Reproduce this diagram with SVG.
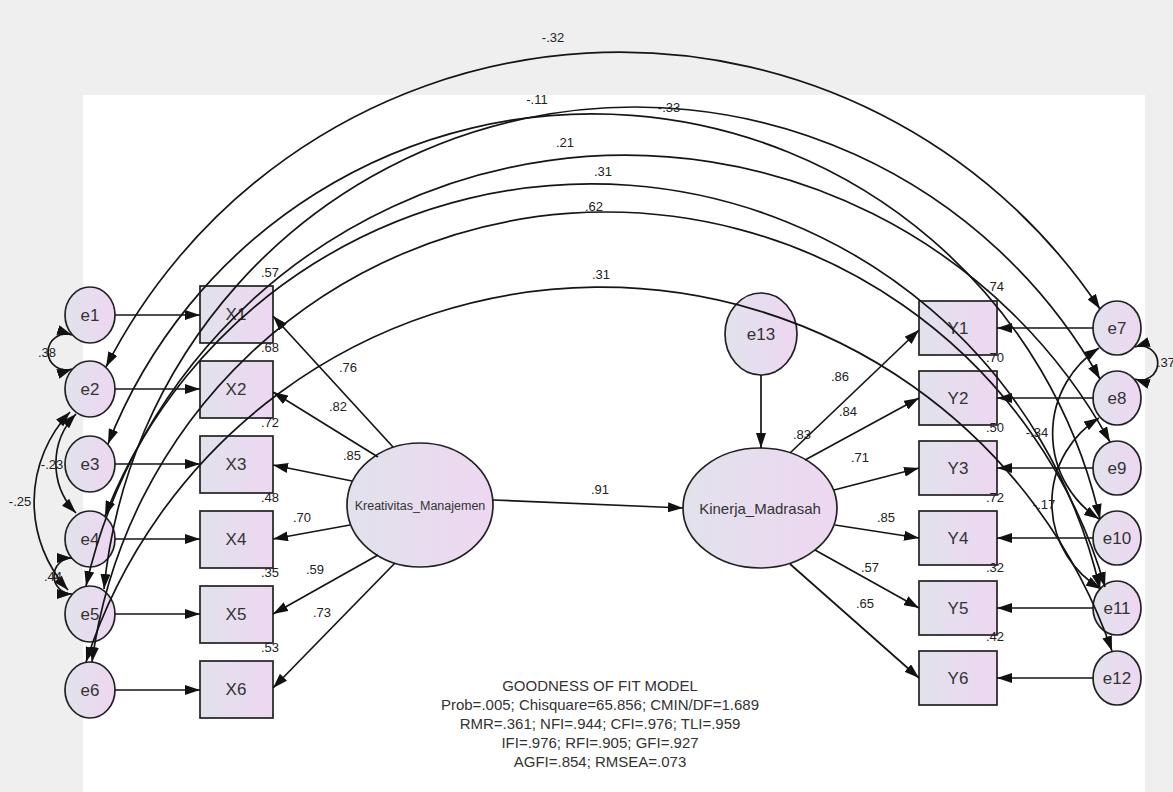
<svg xmlns="http://www.w3.org/2000/svg" width="1173" height="792" viewBox="0 0 1173 792">
<defs>
<linearGradient id="g" x1="0" y1="0" x2="1" y2="0">
<stop offset="0" stop-color="#e1e2ec"/>
<stop offset="1" stop-color="#eed7f1"/>
</linearGradient>
<marker id="a" viewBox="0 0 15 10" refX="15" refY="5" markerWidth="15" markerHeight="10" markerUnits="userSpaceOnUse" orient="auto-start-reverse">
<path d="M0,0L15,5L0,10z" fill="#111"/>
</marker>
<style>
.n{fill:url(#g);stroke:#222;stroke-width:1.7}
.t{font-family:"Liberation Sans",Arial,sans-serif;font-size:17px;fill:#333;text-anchor:middle}
.l{font-family:"Liberation Sans",Arial,sans-serif;font-size:13px;fill:#222;text-anchor:middle}
.f{font-family:"Liberation Sans",Arial,sans-serif;font-size:15px;fill:#333;text-anchor:middle}
.c path,.c line{fill:none;stroke:#151515;stroke-width:1.7}
.s{marker-end:url(#a)}
.d{marker-start:url(#a);marker-end:url(#a)}
</style>
</defs>
<rect x="0" y="0" width="1173" height="792" fill="#efefef"/>
<rect x="83" y="95" width="1062" height="697" fill="#ffffff"/>

<g id="e1"><ellipse class="n" cx="90" cy="315" rx="25" ry="28"/><text class="t" x="90" y="321">e1</text></g>
<g id="e2"><ellipse class="n" cx="90" cy="389" rx="25" ry="28"/><text class="t" x="90" y="395">e2</text></g>
<g id="e3"><ellipse class="n" cx="90" cy="464" rx="25" ry="28"/><text class="t" x="90" y="470">e3</text></g>
<g id="e4"><ellipse class="n" cx="90" cy="539" rx="25" ry="28"/><text class="t" x="90" y="545">e4</text></g>
<g id="e5"><ellipse class="n" cx="90" cy="614" rx="25" ry="28"/><text class="t" x="90" y="620">e5</text></g>
<g id="e6"><ellipse class="n" cx="90" cy="690" rx="25" ry="28"/><text class="t" x="90" y="696">e6</text></g>

<g id="X1"><rect class="n" x="200" y="286" width="73" height="57"/><text class="t" x="236" y="320">X1</text></g>
<g id="X2"><rect class="n" x="200" y="361" width="73" height="57"/><text class="t" x="236" y="395">X2</text></g>
<g id="X3"><rect class="n" x="200" y="436" width="73" height="57"/><text class="t" x="236" y="470">X3</text></g>
<g id="X4"><rect class="n" x="200" y="511" width="73" height="57"/><text class="t" x="236" y="545">X4</text></g>
<g id="X5"><rect class="n" x="200" y="586" width="73" height="57"/><text class="t" x="236" y="620">X5</text></g>
<g id="X6"><rect class="n" x="200" y="661" width="73" height="57"/><text class="t" x="236" y="695">X6</text></g>

<g id="Kreativitas_Manajemen"><ellipse class="n" cx="420" cy="505" rx="73" ry="62"/><text class="t" x="420" y="510" style="font-size:12.5px">Kreativitas_Manajemen</text></g>
<g id="Kinerja_Madrasah"><ellipse class="n" cx="760" cy="508" rx="77" ry="60"/><text class="t" x="760" y="514" style="font-size:15px">Kinerja_Madrasah</text></g>
<g id="e13"><ellipse class="n" cx="761" cy="334" rx="36" ry="41"/><text class="t" x="761" y="340">e13</text></g>

<g id="Y1"><rect class="n" x="919" y="301" width="78" height="54"/><text class="t" x="958" y="334">Y1</text></g>
<g id="Y2"><rect class="n" x="919" y="371" width="78" height="54"/><text class="t" x="958" y="404">Y2</text></g>
<g id="Y3"><rect class="n" x="919" y="441" width="78" height="54"/><text class="t" x="958" y="474">Y3</text></g>
<g id="Y4"><rect class="n" x="919" y="511" width="78" height="54"/><text class="t" x="958" y="544">Y4</text></g>
<g id="Y5"><rect class="n" x="919" y="581" width="78" height="54"/><text class="t" x="958" y="614">Y5</text></g>
<g id="Y6"><rect class="n" x="919" y="651" width="78" height="54"/><text class="t" x="958" y="684">Y6</text></g>

<g id="e7"><ellipse class="n" cx="1117" cy="328" rx="24" ry="27"/><text class="t" x="1117" y="334">e7</text></g>
<g id="e8"><ellipse class="n" cx="1117" cy="398" rx="24" ry="27"/><text class="t" x="1117" y="404">e8</text></g>
<g id="e9"><ellipse class="n" cx="1117" cy="468" rx="24" ry="27"/><text class="t" x="1117" y="474">e9</text></g>
<g id="e10"><ellipse class="n" cx="1117" cy="538" rx="24" ry="27"/><text class="t" x="1117" y="544">e10</text></g>
<g id="e11"><ellipse class="n" cx="1117" cy="608" rx="24" ry="27"/><text class="t" x="1117" y="614">e11</text></g>
<g id="e12"><ellipse class="n" cx="1117" cy="678" rx="24" ry="27"/><text class="t" x="1117" y="684">e12</text></g>

<g id="connectors" class="c">
<line class="s" x1="115" y1="315" x2="200" y2="315"/>
<line class="s" x1="115" y1="389" x2="200" y2="389"/>
<line class="s" x1="115" y1="464" x2="200" y2="464"/>
<line class="s" x1="115" y1="539" x2="200" y2="539"/>
<line class="s" x1="115" y1="614" x2="200" y2="614"/>
<line class="s" x1="115" y1="690" x2="200" y2="690"/>
<line class="s" x1="393" y1="447" x2="273" y2="316"/>
<line class="s" x1="378" y1="457" x2="273" y2="392"/>
<line class="s" x1="352" y1="481" x2="273" y2="465"/>
<line class="s" x1="350" y1="525" x2="273" y2="539"/>
<line class="s" x1="378" y1="555" x2="273" y2="614"/>
<line class="s" x1="395" y1="563" x2="273" y2="688"/>
<line class="s" x1="493" y1="500" x2="683" y2="508"/>
<line class="s" x1="761" y1="375" x2="761" y2="448"/>
<line class="s" x1="790" y1="453" x2="919" y2="330"/>
<line class="s" x1="805" y1="460" x2="919" y2="398"/>
<line class="s" x1="834" y1="490" x2="919" y2="468"/>
<line class="s" x1="835" y1="525" x2="919" y2="538"/>
<line class="s" x1="815" y1="550" x2="919" y2="608"/>
<line class="s" x1="790" y1="564" x2="919" y2="678"/>
<line class="s" x1="1093" y1="328" x2="997" y2="328"/>
<line class="s" x1="1093" y1="398" x2="997" y2="398"/>
<line class="s" x1="1093" y1="468" x2="997" y2="468"/>
<line class="s" x1="1093" y1="538" x2="997" y2="538"/>
<line class="s" x1="1093" y1="608" x2="997" y2="608"/>
<line class="s" x1="1093" y1="678" x2="997" y2="678"/>
<path class="d" d="M72,335 A18,18 0 1,0 72,369"/>
<path class="d" d="M76,414 A71,71 0 0,0 76,513"/>
<path class="d" d="M70,412 A131,131 0 0,0 68,590"/>
<path class="d" d="M72,558 A18,18 0 0,0 72,594"/>
<path class="d" d="M1135,347 A17,17 0 1,1 1135,379"/>
<path class="d" d="M1099,348 A102,102 0 0,0 1099,519"/>
<path class="d" d="M1099,418 A100,100 0 0,0 1101,589"/>
<path class="d" d="M106,367 A577,577 0 0,1 1100,309"/>
<path class="d" d="M108,444 A520.5,520.5 0 0,1 1100,519"/>
<path class="d" d="M104,589 A533.5,533.5 0 0,1 1100,379"/>
<path class="d" d="M86,586 A553,553 0 0,1 1110,442"/>
<path class="d" d="M105,516 A522,522 0 0,1 1100,589"/>
<path class="d" d="M92,662 A519,519 0 0,1 1105,587"/>
<path class="d" d="M86,662 A541,541 0 0,1 1112,651"/>
</g>

<g id="labels">
<text class="l" x="553" y="42">-.32</text>
<text class="l" x="537" y="104">-.11</text>
<text class="l" x="669" y="112">-.33</text>
<text class="l" x="565" y="147">.21</text>
<text class="l" x="603" y="176">.31</text>
<text class="l" x="594" y="211">.62</text>
<text class="l" x="601" y="279">.31</text>
<text class="l" x="47" y="357">.38</text>
<text class="l" x="52" y="469">-.23</text>
<text class="l" x="20" y="506">-.25</text>
<text class="l" x="53" y="581">.44</text>
<text class="l" x="1166" y="367">.37</text>
<text class="l" x="1037" y="437">-.34</text>
<text class="l" x="1044" y="509">-.17</text>
<text class="l" x="270" y="277">.57</text>
<text class="l" x="270" y="352">.68</text>
<text class="l" x="270" y="427">.72</text>
<text class="l" x="270" y="502">.48</text>
<text class="l" x="270" y="577">.35</text>
<text class="l" x="270" y="652">.53</text>
<text class="l" x="348" y="372">.76</text>
<text class="l" x="338" y="411">.82</text>
<text class="l" x="352" y="460">.85</text>
<text class="l" x="302" y="522">.70</text>
<text class="l" x="315" y="574">.59</text>
<text class="l" x="322" y="617">.73</text>
<text class="l" x="600" y="494">.91</text>
<text class="l" x="802" y="439">.83</text>
<text class="l" x="840" y="381">.86</text>
<text class="l" x="848" y="416">.84</text>
<text class="l" x="860" y="462">.71</text>
<text class="l" x="886" y="522">.85</text>
<text class="l" x="870" y="572">.57</text>
<text class="l" x="865" y="608">.65</text>
<text class="l" x="995" y="291">.74</text>
<text class="l" x="995" y="362">.70</text>
<text class="l" x="995" y="432">.50</text>
<text class="l" x="995" y="502">.72</text>
<text class="l" x="995" y="572">.32</text>
<text class="l" x="995" y="641">.42</text>
</g>
<g id="fit">
<text class="f" x="600" y="691">GOODNESS OF FIT MODEL</text>
<text class="f" x="600" y="710">Prob=.005; Chisquare=65.856; CMIN/DF=1.689</text>
<text class="f" x="600" y="729">RMR=.361; NFI=.944; CFI=.976; TLI=.959</text>
<text class="f" x="600" y="748">IFI=.976; RFI=.905; GFI=.927</text>
<text class="f" x="600" y="767">AGFI=.854; RMSEA=.073</text>
</g>
</svg>
